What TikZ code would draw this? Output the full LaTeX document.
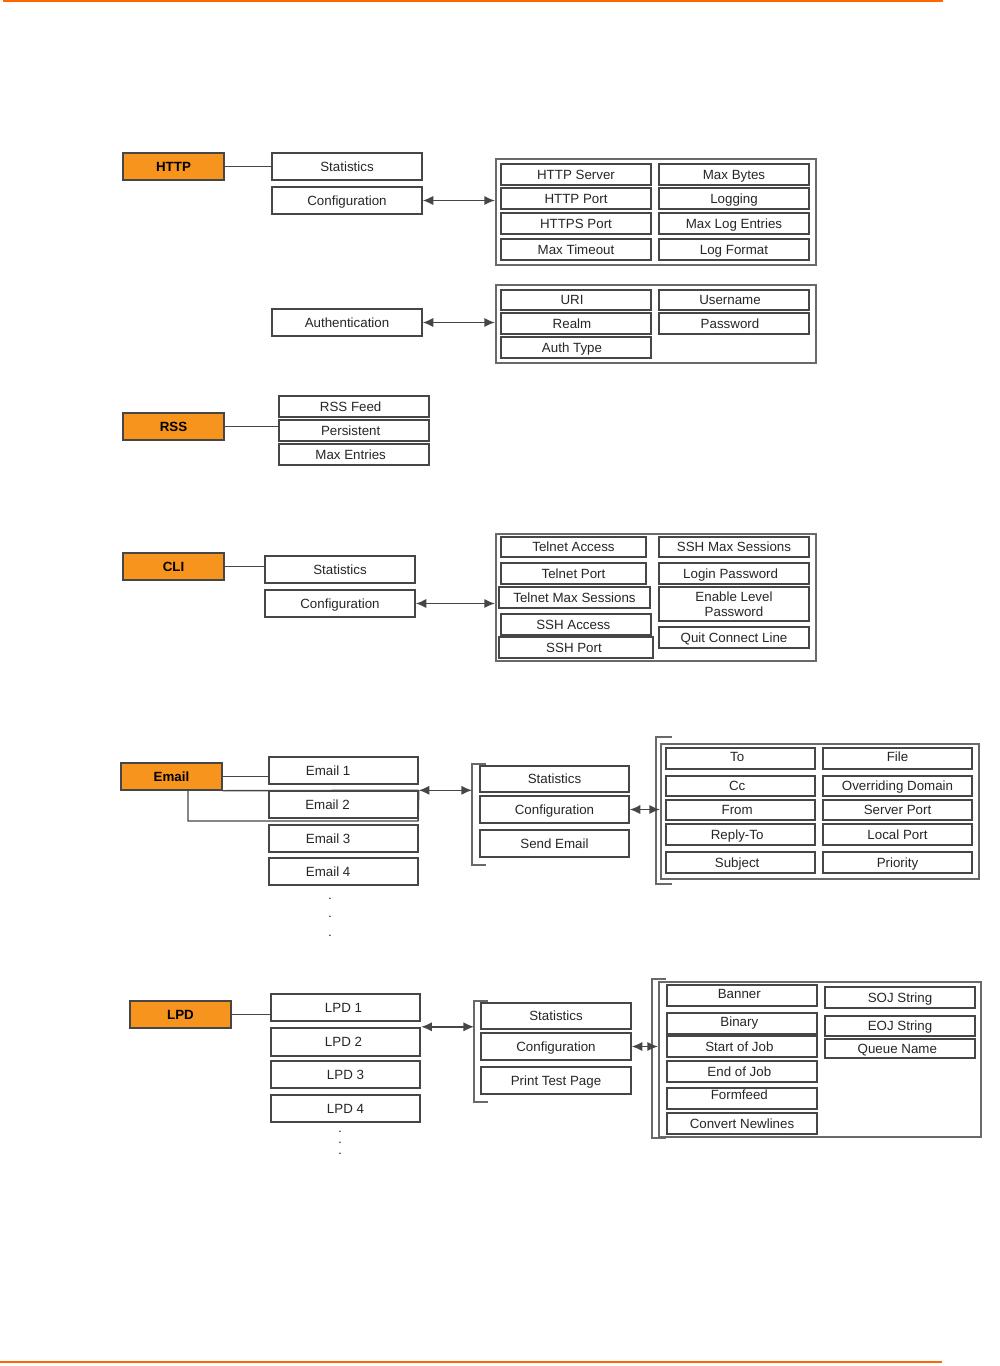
\documentclass[tikz,border=0pt]{standalone}
\usepackage{fontspec}
\setmainfont{Liberation Sans}
\usetikzlibrary{arrows.meta}
\definecolor{orng}{RGB}{247,148,29}
\definecolor{rulecol}{RGB}{255,102,0}
\definecolor{bord}{RGB}{70,70,70}
\definecolor{cbord}{RGB}{105,105,105}
\tikzset{
 box/.style={draw=bord,line width=1.1pt,fill=white,inner sep=0pt,font=\fontsize{10}{11.5}\selectfont,text=black!85,text height=7.2pt,text depth=0pt},
 hdr/.style={box,fill=orng,font=\bfseries\fontsize{10}{11}\selectfont,text=black},
 cont/.style={draw=cbord,line width=1.6pt},
 thick box/.style={line width=1.8pt},
 lnk/.style={draw=bord,line width=1.1pt},
 dbl/.style={lnk,{Latex[length=8pt,width=7pt]}-{Latex[length=8pt,width=7pt]}},
 brk/.style={draw=cbord,line width=1.4pt},
 orule/.style={draw=rulecol,line width=1.8pt},
 dotmark/.style={font=\fontsize{9}{9}\selectfont,inner sep=0pt},
}
\newcommand\bx[7][]{%
 \pgfmathsetmacro\bw{(#5-#3)*0.75}\pgfmathsetmacro\bh{(#6-#4)*0.75}%
 \node[box,#1,minimum width=\bw pt,minimum height=\bh pt] (#2) at ({(#3+#5)/2},{(#4+#6)/2}) {#7};}
\newcommand\lft[2]{#1\hspace*{#2}}
\begin{document}
\begin{tikzpicture}[x=0.75pt,y=-0.75pt]
\useasboundingbox (0,0) rectangle (999,1366);
% page rules
\coordinate (rt1) at (3,1); \coordinate (rt2) at (943,1);
\coordinate (rb1) at (0,1362); \coordinate (rb2) at (942,1362);
\draw[orule] (rt1) -- (rt2);
\draw[orule] (rb1) -- (rb2);

% ---------------- HTTP ----------------
\bx[hdr]{http}{123}{153}{224}{180}{HTTP}
\bx{hstat}{272}{153}{422}{180}{Statistics}
\bx{hcfg}{272}{187}{422}{214}{Configuration}
\draw[lnk] (http.east) -- (hstat.west);
\bx[cont]{hc1}{496}{159}{816}{265}{}
\bx{h11}{501}{164}{651}{185}{HTTP Server}
\bx{h12}{659}{164}{809}{185}{Max Bytes}
\bx{h21}{501}{188}{651}{209}{HTTP Port}
\bx{h22}{659}{188}{809}{209}{Logging}
\bx{h31}{501}{213}{651}{234}{HTTPS Port}
\bx{h32}{659}{213}{809}{234}{Max Log Entries}
\bx{h41}{501}{239}{651}{260}{Max Timeout}
\bx{h42}{659}{239}{809}{260}{Log Format}
\draw[dbl] (hcfg.east) -- (hcfg.east -| hc1.west);
\bx{hauth}{272}{309}{422}{336}{Authentication}
\bx[cont]{hc2}{496}{285}{816}{363}{}
\bx{a11}{501}{290}{651}{310}{\lft{URI}{6pt}}
\bx{a12}{659}{290}{809}{310}{\lft{Username}{6pt}}
\bx{a21}{501}{313}{651}{334}{\lft{Realm}{6pt}}
\bx{a22}{659}{313}{809}{334}{\lft{Password}{6pt}}
\bx{a31}{501}{337}{651}{358}{\lft{Auth Type}{6pt}}
\draw[dbl] (hauth.east) -- (hauth.east -| hc2.west);

% ---------------- RSS ----------------
\bx[hdr]{rss}{123}{413}{224}{440}{RSS}
\bx{r1}{279}{396}{429}{417}{\lft{RSS Feed}{5pt}}
\bx{r2}{279}{420}{429}{441}{\lft{Persistent}{5pt}}
\bx{r3}{279}{444}{429}{465}{\lft{Max Entries}{5pt}}
\draw[lnk] (rss.east) -- (rss.east -| r2.west);

% ---------------- CLI ----------------
\bx[hdr]{cli}{123}{553}{224}{580}{CLI}
\bx{cstat}{265}{556}{415}{583}{Statistics}
\bx{ccfg}{265}{590}{415}{617}{Configuration}
\draw[lnk] (cli.east) -- (cli.east -| cstat.west);
\bx[cont]{cc}{496}{534}{816}{661}{}
\bx{c11}{501}{537}{646}{557}{Telnet Access}
\bx{c12}{659}{537}{809}{557}{SSH Max Sessions}
\bx{c21}{501}{563}{646}{584}{Telnet Port}
\bx{c22}{659}{563}{809}{584}{\lft{Login Password}{5pt}}
\bx{c31}{499}{587}{650}{608}{Telnet Max Sessions}
\bx[align=center,font=\fontsize{10}{11}\selectfont,text height=,text depth=]{c32}{659}{587}{809}{621}{Enable Level\\Password}
\bx{c41}{501}{614}{651}{635}{\lft{SSH Access}{4pt}}
\bx{c42}{659}{627}{809}{648}{Quit Connect Line}
\bx{c51}{499}{637}{653}{658}{\lft{SSH Port}{3pt}}
\draw[dbl] (ccfg.east) -- (ccfg.east -| cc.west);

% ---------------- Email ----------------
\bx[hdr]{email}{121}{763}{222}{790}{Email}
\bx{e1}{269}{757}{418}{784}{\lft{Email 1}{23pt}}
\bx{e2}{269}{791}{418}{818}{\lft{Email 2}{24pt}}
\bx{e3}{269}{825}{418}{852}{\lft{Email 3}{23pt}}
\bx{e4}{269}{858}{418}{885}{\lft{Email 4}{23pt}}
\draw[lnk] (email.east) -- (email.east -| e1.west);
\coordinate (ej) at (188,790);
\coordinate (ejb) at (188,821);
\coordinate (ejr) at (418,821);
\draw[lnk] (email.south east) -- (e2.north east);
\draw[lnk] (ej) -- (ejb) -- (ejr) -- (e2.north east);
\node[dotmark] (ed1) at (330,899) {.};
\node[dotmark] (ed2) at (330,917) {.};
\node[dotmark] (ed3) at (330,936) {.};
% bracket 1
\coordinate (eb1t) at (472,764); \coordinate (eb1b) at (472,865);
\draw[brk] ([xshift=14*0.75pt]eb1t) -- (eb1t) -- (eb1b) -- ([xshift=14*0.75pt]eb1b);
\bx{est}{480}{766}{629}{792}{Statistics}
\bx{ecfg}{480}{796}{629}{823}{Configuration}
\bx{esend}{480}{830}{629}{857}{Send Email}
\draw[dbl] (e2.north east) -- (e2.north east -| eb1t);
% bracket 2 and container
\coordinate (eb2t) at (656,737); \coordinate (eb2b) at (656,884);
\draw[brk] ([xshift=16*0.75pt]eb2t) -- (eb2t) -- (eb2b) -- ([xshift=16*0.75pt]eb2b);
\bx[cont]{ec}{661}{744}{979}{879}{}
\bx{m11}{666}{748}{815}{769}{\raisebox{1pt}{\lft{To}{5pt}}}
\bx{m12}{823}{748}{972}{769}{\raisebox{1pt}{File}}
\bx{m21}{666}{776}{815}{796}{\lft{Cc}{5pt}}
\bx{m22}{823}{776}{972}{796}{Overriding Domain}
\bx{m31}{666}{800}{815}{820}{\lft{From}{5pt}}
\bx{m32}{823}{800}{972}{820}{Server Port}
\bx{m41}{666}{824}{815}{845}{\lft{Reply-To}{5pt}}
\bx{m42}{823}{824}{972}{845}{Local Port}
\bx{m51}{666}{852}{815}{873}{\lft{Subject}{5pt}}
\bx{m52}{823}{852}{972}{873}{Priority}
\draw[dbl] (ecfg.east) -- (ecfg.east -| ec.west);

% ---------------- LPD ----------------
\bx[hdr]{lpd}{130}{1001}{231}{1028}{LPD}
\bx{l1}{271}{994}{420}{1021}{\lft{LPD 1}{3pt}}
\bx[thick box]{l2}{271}{1028}{420}{1056}{\lft{LPD 2}{3pt}}
\bx{l3}{271}{1061}{420}{1088}{LPD 3}
\bx{l4}{271}{1095}{420}{1122}{LPD 4}
\draw[lnk] (lpd.east) -- (lpd.east -| l1.west);
\node[dotmark] (ld1) at (340,1132) {.};
\node[dotmark] (ld2) at (340,1143) {.};
\node[dotmark] (ld3) at (340,1154) {.};
\coordinate (lb1t) at (474,1001); \coordinate (lb1b) at (474,1102);
\draw[brk] ([xshift=14*0.75pt]lb1t) -- (lb1t) -- (lb1b) -- ([xshift=14*0.75pt]lb1b);
\bx{lst}{481}{1003}{631}{1029}{Statistics}
\bx{lcfg}{481}{1033}{631}{1060}{Configuration}
\bx{lptp}{481}{1067}{631}{1094}{Print Test Page}
\draw[dbl] (l2.north east) -- (l2.north east -| lb1t);
\coordinate (lb2t) at (652,979); \coordinate (lb2b) at (652,1138);
\draw[brk] ([xshift=14*0.75pt]lb2t) -- (lb2t) -- (lb2b) -- ([xshift=14*0.75pt]lb2b);
\bx[cont]{lc}{659}{982}{981}{1137}{}
\bx{p11}{667}{985}{817}{1006}{\raisebox{1pt}{\lft{Banner}{4pt}}}
\bx{p12}{825}{987}{975}{1008}{SOJ String}
\bx{p21}{667}{1013}{817}{1034}{\raisebox{1pt}{\lft{Binary}{4pt}}}
\bx{p22}{825}{1016}{975}{1036}{EOJ String}
\bx{p31}{667}{1036}{817}{1057}{\lft{Start of Job}{4pt}}
\bx{p32}{825}{1039}{975}{1058}{\lft{Queue Name}{4pt}}
\bx{p41}{667}{1061}{817}{1082}{\lft{End of Job}{4pt}}
\bx[thick box]{p51}{667}{1088}{817}{1109}{\raisebox{3pt}{\lft{Formfeed}{4pt}}}
\bx{p61}{667}{1113}{817}{1134}{Convert Newlines}
\draw[dbl] (lcfg.east) -- (lcfg.east -| lc.west);
\end{tikzpicture}
\end{document}
